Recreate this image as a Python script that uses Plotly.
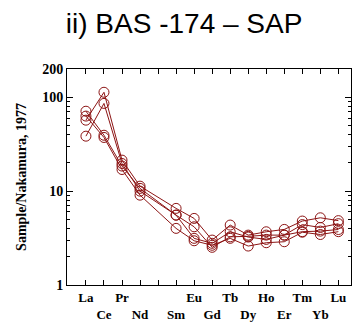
import plotly.graph_objects as go

elements = ["La", "Ce", "Pr", "Nd", "Pm", "Sm", "Eu", "Gd", "Tb", "Dy", "Ho", "Er", "Tm", "Yb", "Lu"]
tick_labels = ["La", "<br>Ce", "Pr", "<br>Nd", "", "<br>Sm", "Eu", "<br>Gd", "Tb", "<br>Dy", "Ho", "<br>Er", "Tm", "<br>Yb", "Lu"]

# Chondrite-normalised values (None = not analysed, Pm)
sample_1 = [38.5, 86, 19.7, 10.0, None, 5.55, 3.14, 2.78, 3.69, 3.24, 3.06, 3.40, 4.40, 4.10, 4.50]
sample_2 = [57, 113, 21.4, 11.3, None, 6.55, 5.12, 3.01, 4.35, 3.40, 3.69, 3.91, 4.80, 5.20, 4.85]
sample_3 = [71, 39.4, 18.5, 10.7, None, 5.55, 4.17, 2.52, 3.26, 3.30, 3.40, 3.40, 3.70, 3.75, 3.90]
sample_4 = [63, 37.3, 17.0, 9.06, None, 4.01, 2.96, 2.65, 3.14, 2.60, 2.82, 2.89, 3.65, 3.45, 3.70]

y_tickvals = [1, 10, 100, 200]
y_ticktext = ["1", "10", "100", "200"]

color = "#8c1414"
x_idx = list(range(len(elements)))

fig = go.Figure()
for s in [sample_1, sample_2, sample_3, sample_4]:
    fig.add_trace(go.Scatter(
        x=x_idx, y=s, mode="lines+markers", connectgaps=True,
        line=dict(color=color, width=1),
        marker=dict(symbol="circle-open", size=10, color=color, line=dict(width=1, color=color)),
        showlegend=False, hoverinfo="skip",
    ))

serif_bold = dict(family="Liberation Serif", size=13, color="black", weight="bold")

fig.update_layout(
    width=352, height=327,
    margin=dict(l=67, r=1, t=69, b=42),
    paper_bgcolor="white", plot_bgcolor="white",
    title=dict(text="ii) BAS -174 \u2013 SAP", x=0.523, xanchor="center", y=0.93, yanchor="middle",
               font=dict(family="Liberation Sans", size=28, color="black")),
    xaxis=dict(
        range=[-1.05, 14.7], tickmode="array", tickvals=x_idx, ticktext=tick_labels,
        ticks="inside", ticklen=5, tickcolor="black", tickwidth=1,
        showline=True, linecolor="black", linewidth=1, mirror="ticks",
        showgrid=False, zeroline=False, tickfont=serif_bold, tickangle=0,
    ),
    yaxis=dict(
        type="log", range=[0, 2.30103], tickmode="array", tickvals=y_tickvals, ticktext=y_ticktext,
        ticks="inside", ticklen=6, tickcolor="black", tickwidth=1,
        showline=True, linecolor="black", linewidth=1, mirror="ticks",
        showgrid=False, zeroline=False,
        tickfont=dict(family="Liberation Serif", size=14, color="black", weight="bold"),
        minor=dict(ticks="inside", ticklen=3, tickcolor="black", dtick="D1", showgrid=False),
        title=dict(text="Sample/Nakamura, 1977", standoff=12,
                   font=dict(family="Liberation Serif", size=14, color="black", weight="bold")),
    ),
)

fig.write_html("out.html")
